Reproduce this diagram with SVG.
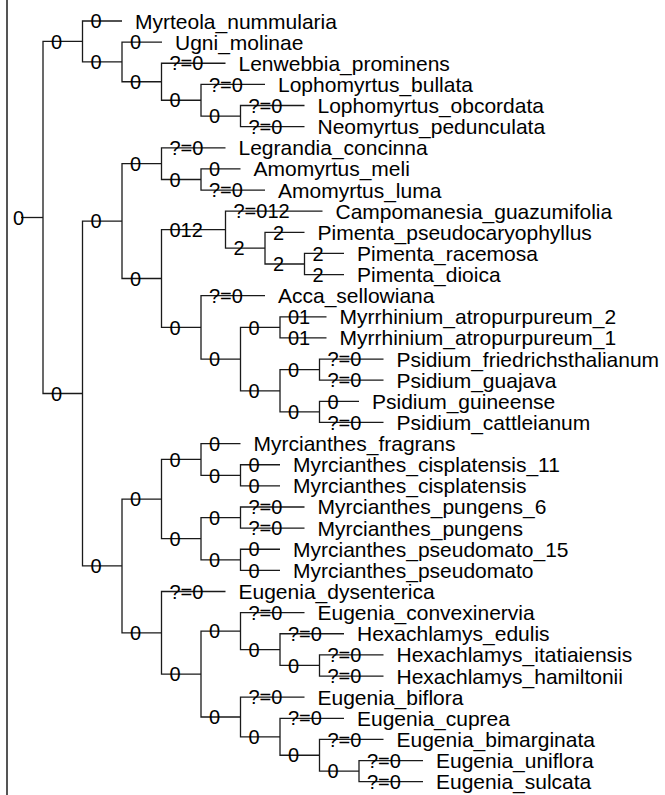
<svg xmlns="http://www.w3.org/2000/svg" width="665" height="795" viewBox="0 0 665 795">
<style>
.br{fill:none;stroke:#1a1a1a;stroke-width:1.3}
.st{font-family:"Liberation Sans",Arial,sans-serif;font-size:20px;fill:#000}
.nm{font-family:"Liberation Sans",Arial,sans-serif;font-size:21px;fill:#000}
</style>
<rect width="665" height="795" fill="#fff"/>
<line x1="7" y1="0" x2="7" y2="795" stroke="#555" stroke-width="2"/>
<g id="connectors">
<path class="br" d="M21 217.5 H43"/>
<path class="br" d="M82.5 41.47 H43 V393.5 H82.5"/>
<path class="br" d="M122 21 H82.5 V61.94 H122"/>
<path class="br" d="M162 42.13 H122 V81.75 H161.5"/>
<path class="br" d="M225.5 63.26 H161.5 V100.24 H201"/>
<path class="br" d="M265 84.39 H201 V116.09 H240.5"/>
<path class="br" d="M304.5 105.52 H240.5 V126.65 H304.5"/>
<path class="br" d="M122 221.07 H82.5 V565.9 H122"/>
<path class="br" d="M161.5 163.63 H122 V278.5 H161.5"/>
<path class="br" d="M225.5 147.78 H161.5 V179.48 H201"/>
<path class="br" d="M240.5 168.91 H201 V190.04 H265"/>
<path class="br" d="M225.5 229.66 H161.5 V327.39 H201"/>
<path class="br" d="M322.5 211.17 H225.5 V248.15 H265"/>
<path class="br" d="M304.5 232.3 H265 V264 H304.5"/>
<path class="br" d="M344 253.43 H304.5 V274.56 H344"/>
<path class="br" d="M265 295.69 H201 V359.08 H240.5"/>
<path class="br" d="M280 327.39 H240.5 V390.78 H280"/>
<path class="br" d="M326.5 316.82 H280 V337.95 H326.5"/>
<path class="br" d="M319.5 369.65 H280 V411.9 H319.5"/>
<path class="br" d="M383.5 359.08 H319.5 V380.21 H383.5"/>
<path class="br" d="M359 401.34 H319.5 V422.47 H383.5"/>
<path class="br" d="M161.5 499.07 H122 V632.78 H161.5"/>
<path class="br" d="M201 459.45 H161.5 V538.7 H201"/>
<path class="br" d="M240.5 443.6 H201 V475.3 H240.5"/>
<path class="br" d="M280 464.73 H240.5 V485.86 H280"/>
<path class="br" d="M240.5 517.56 H201 V559.8 H240.5"/>
<path class="br" d="M304.5 506.99 H240.5 V528.12 H304.5"/>
<path class="br" d="M280 549.25 H240.5 V570.38 H280"/>
<path class="br" d="M225.5 591.51 H161.5 V674.05 H201"/>
<path class="br" d="M240.5 631.13 H201 V716.98 H240.5"/>
<path class="br" d="M304.5 612.64 H240.5 V649.62 H280"/>
<path class="br" d="M344 633.77 H280 V665.47 H319.5"/>
<path class="br" d="M383.5 654.9 H319.5 V676.03 H383.5"/>
<path class="br" d="M304.5 697.16 H240.5 V736.8 H280"/>
<path class="br" d="M344 718.29 H280 V755.26 H319.5"/>
<path class="br" d="M383.5 739.42 H319.5 V771.1 H359"/>
<path class="br" d="M423 760.55 H359 V781.68 H423"/>
</g>
<g id="node-root"><text class="st" x="13" y="224.7">0</text></g>
<g id="node-A"><text class="st" x="51" y="48.67">0</text></g>
<g id="node-A2"><text class="st" x="90.5" y="69.14">0</text></g>
<g id="node-A3"><text class="st" x="130" y="88.95">0</text></g>
<g id="node-A4"><text class="st" x="169.5" y="107.44">0</text></g>
<g id="node-A5"><text class="st" x="209" y="123.29">0</text></g>
<g id="node-B"><text class="st" x="51" y="400.7">0</text></g>
<g id="node-B1"><text class="st" x="90.5" y="228.27">0</text></g>
<g id="node-C1"><text class="st" x="130" y="170.83">0</text></g>
<g id="node-C2"><text class="st" x="169.5" y="186.68">0</text></g>
<g id="node-D"><text class="st" x="130" y="285.7">0</text></g>
<g id="node-E"><text class="st" x="169.5" y="236.86">012</text></g>
<g id="node-F"><text class="st" x="233.5" y="255.35">2</text></g>
<g id="node-G"><text class="st" x="273" y="271.2">2</text></g>
<g id="node-H"><text class="st" x="169.5" y="334.59">0</text></g>
<g id="node-I"><text class="st" x="209" y="366.28">0</text></g>
<g id="node-J"><text class="st" x="248.5" y="334.59">0</text></g>
<g id="node-K"><text class="st" x="248.5" y="397.98">0</text></g>
<g id="node-L"><text class="st" x="288" y="376.85">0</text></g>
<g id="node-M"><text class="st" x="288" y="419.1">0</text></g>
<g id="node-N"><text class="st" x="90.5" y="573.1">0</text></g>
<g id="node-O"><text class="st" x="130" y="506.27">0</text></g>
<g id="node-P"><text class="st" x="169.5" y="466.65">0</text></g>
<g id="node-Q"><text class="st" x="209" y="482.5">0</text></g>
<g id="node-S"><text class="st" x="169.5" y="545.9">0</text></g>
<g id="node-T"><text class="st" x="209" y="524.76">0</text></g>
<g id="node-U"><text class="st" x="209" y="567">0</text></g>
<g id="node-V"><text class="st" x="130" y="639.98">0</text></g>
<g id="node-W"><text class="st" x="169.5" y="681.25">0</text></g>
<g id="node-X"><text class="st" x="209" y="638.33">0</text></g>
<g id="node-Y"><text class="st" x="248.5" y="656.82">0</text></g>
<g id="node-Z"><text class="st" x="288" y="672.67">0</text></g>
<g id="node-AA"><text class="st" x="209" y="724.18">0</text></g>
<g id="node-AB"><text class="st" x="248.5" y="744">0</text></g>
<g id="node-AC"><text class="st" x="288" y="762.46">0</text></g>
<g id="node-AD"><text class="st" x="327.5" y="778.3">0</text></g>
<g id="leaf-Myrteola_nummularia"><text class="st" x="90.5" y="28.2">0</text><text class="nm" x="135" y="28.5">Myrteola_nummularia</text></g>
<g id="leaf-Ugni_molinae"><text class="st" x="130" y="49.33">0</text><text class="nm" x="175" y="49.63">Ugni_molinae</text></g>
<g id="leaf-Lenwebbia_prominens"><text class="st" x="169.5" y="70.46">?=0</text><text class="nm" x="238.5" y="70.76">Lenwebbia_prominens</text></g>
<g id="leaf-Lophomyrtus_bullata"><text class="st" x="209" y="91.59">?=0</text><text class="nm" x="278" y="91.89">Lophomyrtus_bullata</text></g>
<g id="leaf-Lophomyrtus_obcordata"><text class="st" x="248.5" y="112.72">?=0</text><text class="nm" x="317.5" y="113.02">Lophomyrtus_obcordata</text></g>
<g id="leaf-Neomyrtus_pedunculata"><text class="st" x="248.5" y="133.85">?=0</text><text class="nm" x="317.5" y="134.15">Neomyrtus_pedunculata</text></g>
<g id="leaf-Legrandia_concinna"><text class="st" x="169.5" y="154.98">?=0</text><text class="nm" x="238.5" y="155.28">Legrandia_concinna</text></g>
<g id="leaf-Amomyrtus_meli"><text class="st" x="209" y="176.11">0</text><text class="nm" x="253.5" y="176.41">Amomyrtus_meli</text></g>
<g id="leaf-Amomyrtus_luma"><text class="st" x="209" y="197.24">?=0</text><text class="nm" x="278" y="197.54">Amomyrtus_luma</text></g>
<g id="leaf-Campomanesia_guazumifolia"><text class="st" x="233.5" y="218.37">?=012</text><text class="nm" x="335.5" y="218.67">Campomanesia_guazumifolia</text></g>
<g id="leaf-Pimenta_pseudocaryophyllus"><text class="st" x="273" y="239.5">2</text><text class="nm" x="317.5" y="239.8">Pimenta_pseudocaryophyllus</text></g>
<g id="leaf-Pimenta_racemosa"><text class="st" x="312.5" y="260.63">2</text><text class="nm" x="357" y="260.93">Pimenta_racemosa</text></g>
<g id="leaf-Pimenta_dioica"><text class="st" x="312.5" y="281.76">2</text><text class="nm" x="357" y="282.06">Pimenta_dioica</text></g>
<g id="leaf-Acca_sellowiana"><text class="st" x="209" y="302.89">?=0</text><text class="nm" x="278" y="303.19">Acca_sellowiana</text></g>
<g id="leaf-Myrrhinium_atropurpureum_2"><text class="st" x="288" y="324.02">01</text><text class="nm" x="339.5" y="324.32">Myrrhinium_atropurpureum_2</text></g>
<g id="leaf-Myrrhinium_atropurpureum_1"><text class="st" x="288" y="345.15">01</text><text class="nm" x="339.5" y="345.45">Myrrhinium_atropurpureum_1</text></g>
<g id="leaf-Psidium_friedrichsthalianum"><text class="st" x="327.5" y="366.28">?=0</text><text class="nm" x="396.5" y="366.58">Psidium_friedrichsthalianum</text></g>
<g id="leaf-Psidium_guajava"><text class="st" x="327.5" y="387.41">?=0</text><text class="nm" x="396.5" y="387.71">Psidium_guajava</text></g>
<g id="leaf-Psidium_guineense"><text class="st" x="327.5" y="408.54">0</text><text class="nm" x="372" y="408.84">Psidium_guineense</text></g>
<g id="leaf-Psidium_cattleianum"><text class="st" x="327.5" y="429.67">?=0</text><text class="nm" x="396.5" y="429.97">Psidium_cattleianum</text></g>
<g id="leaf-Myrcianthes_fragrans"><text class="st" x="209" y="450.8">0</text><text class="nm" x="253.5" y="451.1">Myrcianthes_fragrans</text></g>
<g id="leaf-Myrcianthes_cisplatensis_11"><text class="st" x="248.5" y="471.93">0</text><text class="nm" x="293" y="472.23">Myrcianthes_cisplatensis_11</text></g>
<g id="leaf-Myrcianthes_cisplatensis"><text class="st" x="248.5" y="493.06">0</text><text class="nm" x="293" y="493.36">Myrcianthes_cisplatensis</text></g>
<g id="leaf-Myrcianthes_pungens_6"><text class="st" x="248.5" y="514.19">?=0</text><text class="nm" x="317.5" y="514.49">Myrcianthes_pungens_6</text></g>
<g id="leaf-Myrcianthes_pungens"><text class="st" x="248.5" y="535.32">?=0</text><text class="nm" x="317.5" y="535.62">Myrcianthes_pungens</text></g>
<g id="leaf-Myrcianthes_pseudomato_15"><text class="st" x="248.5" y="556.45">0</text><text class="nm" x="293" y="556.75">Myrcianthes_pseudomato_15</text></g>
<g id="leaf-Myrcianthes_pseudomato"><text class="st" x="248.5" y="577.58">0</text><text class="nm" x="293" y="577.88">Myrcianthes_pseudomato</text></g>
<g id="leaf-Eugenia_dysenterica"><text class="st" x="169.5" y="598.71">?=0</text><text class="nm" x="238.5" y="599.01">Eugenia_dysenterica</text></g>
<g id="leaf-Eugenia_convexinervia"><text class="st" x="248.5" y="619.84">?=0</text><text class="nm" x="317.5" y="620.14">Eugenia_convexinervia</text></g>
<g id="leaf-Hexachlamys_edulis"><text class="st" x="288" y="640.97">?=0</text><text class="nm" x="357" y="641.27">Hexachlamys_edulis</text></g>
<g id="leaf-Hexachlamys_itatiaiensis"><text class="st" x="327.5" y="662.1">?=0</text><text class="nm" x="396.5" y="662.4">Hexachlamys_itatiaiensis</text></g>
<g id="leaf-Hexachlamys_hamiltonii"><text class="st" x="327.5" y="683.23">?=0</text><text class="nm" x="396.5" y="683.53">Hexachlamys_hamiltonii</text></g>
<g id="leaf-Eugenia_biflora"><text class="st" x="248.5" y="704.36">?=0</text><text class="nm" x="317.5" y="704.66">Eugenia_biflora</text></g>
<g id="leaf-Eugenia_cuprea"><text class="st" x="288" y="725.49">?=0</text><text class="nm" x="357" y="725.79">Eugenia_cuprea</text></g>
<g id="leaf-Eugenia_bimarginata"><text class="st" x="327.5" y="746.62">?=0</text><text class="nm" x="396.5" y="746.92">Eugenia_bimarginata</text></g>
<g id="leaf-Eugenia_uniflora"><text class="st" x="367" y="767.75">?=0</text><text class="nm" x="436" y="768.05">Eugenia_uniflora</text></g>
<g id="leaf-Eugenia_sulcata"><text class="st" x="367" y="788.88">?=0</text><text class="nm" x="436" y="789.18">Eugenia_sulcata</text></g>
</svg>
